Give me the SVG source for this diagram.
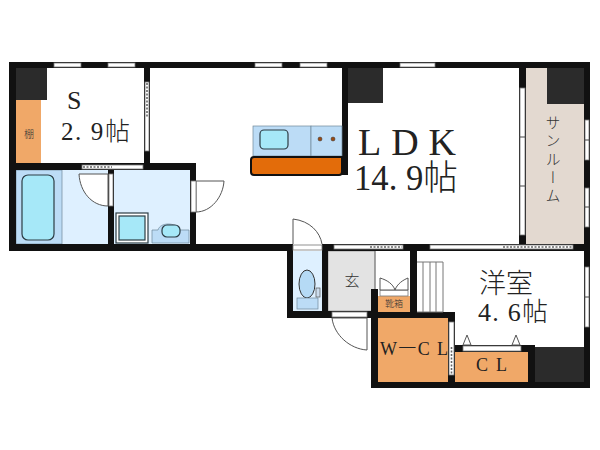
<svg xmlns="http://www.w3.org/2000/svg" width="600" height="450" viewBox="0 0 600 450">
<style>
.w{fill:#111}
.d{fill:#2b2b2b}
.o{fill:#f0a868}
.lb{fill:#bcdcf6;stroke:#6f8899;stroke-width:.7}
.pb{fill:#def0ff}
.c{fill:#a6e8f8;stroke:#2c3c44;stroke-width:1.2}
.win{fill:#fff;stroke:#777;stroke-width:.8}
.dot{fill:none;stroke:#666;stroke-width:1.6;stroke-dasharray:2 1.5}
.arc{fill:#fff;stroke:#555;stroke-width:1}
.t{font-family:"Liberation Serif","Noto Sans CJK JP",serif;fill:#222;font-weight:300}
.j{font-family:"Noto Sans CJK JP",sans-serif;fill:#333;font-weight:300}
</style>
<rect width="600" height="450" fill="#fff"/>
<g id="fills">
<rect class="pb" x="62" y="170" width="46" height="74"/>
<rect class="lb" x="16" y="170" width="46" height="74"/>
<rect class="pb" x="114" y="170" width="76" height="74"/>
<rect x="526" y="68" width="58" height="176" fill="#e3d9d0"/>
<rect class="pb" x="293" y="251" width="29" height="60"/>
<rect x="328" y="251" width="47" height="60" fill="#e3e3e3" stroke="#888" stroke-width=".7"/>
<path d="M375 251V290" stroke="#777" fill="none"/>
<rect class="o" x="16" y="100" width="25" height="63"/>
<rect class="o" x="378" y="318" width="71" height="65"/>
<rect class="o" x="455" y="352" width="73" height="31"/>
<rect class="o" x="378" y="296" width="32" height="16"/>
</g>
<g id="walls">
<rect class="w" x="9" y="62" width="581" height="6"/>
<rect class="w" x="9" y="62" width="7" height="189"/>
<rect class="w" x="9" y="244" width="284" height="7"/>
<rect class="w" x="9" y="163" width="187" height="7"/>
<rect class="w" x="144" y="62" width="6" height="108"/>
<rect class="w" x="108" y="170" width="6" height="80"/>
<rect class="w" x="190" y="163" width="6" height="88"/>
<rect class="w" x="342" y="62" width="6" height="113"/>
<rect class="w" x="519" y="62" width="7" height="183"/>
<rect class="w" x="584" y="62" width="6" height="326"/>
<rect class="w" x="287" y="244" width="6" height="74"/>
<rect class="w" x="287" y="311" width="90" height="7"/>
<rect class="w" x="322" y="244" width="6" height="74"/>
<rect class="w" x="322" y="244" width="268" height="7"/>
<rect class="w" x="410" y="244" width="7" height="74"/>
<rect class="w" x="371" y="289" width="7" height="99"/>
<rect class="w" x="371" y="312" width="84" height="6"/>
<rect class="w" x="448" y="312" width="7" height="76"/>
<rect class="w" x="371" y="382" width="219" height="6"/>
<rect class="w" x="455" y="345" width="80" height="7"/>
<rect class="w" x="528" y="345" width="7" height="40"/>
<rect class="d" x="16" y="68" width="31" height="32"/>
<rect class="d" x="348" y="68" width="35" height="35"/>
<rect class="d" x="547" y="68" width="37" height="36"/>
<rect class="d" x="535" y="347" width="49" height="35"/>
</g>
<g id="windows">
<rect class="win" x="54" y="63" width="27" height="4"/>
<rect class="win" x="108" y="63" width="27" height="4"/>
<rect class="win" x="255" y="63" width="27" height="4"/>
<rect class="win" x="300" y="63" width="27" height="4"/>
<rect class="win" x="400" y="63" width="35" height="4"/>
<rect class="win" x="145" y="82" width="4" height="69"/>
<path class="dot" d="M147 83V117"/>
<rect class="win" x="82" y="165" width="61" height="4"/>
<path class="dot" d="M83 167H112"/>
<rect class="win" x="520" y="88" width="5" height="147"/>
<path d="M519 137H526M519 186H526" stroke="#444"/>
<rect class="win" x="585" y="120" width="4" height="40"/>
<rect class="win" x="585" y="188" width="4" height="39"/>
<rect class="win" x="585" y="267" width="4" height="60"/>
<path d="M584 140H590M584 207H590M584 297H590" stroke="#444"/>
<rect class="win" x="334" y="245" width="69" height="4"/>
<path class="dot" d="M370 247H402"/>
<rect class="win" x="430" y="245" width="143" height="4"/>
<path class="dot" d="M503 247H572"/>
<rect class="win" x="449" y="322" width="5" height="53"/>
<path class="dot" d="M451.500 347V374"/>
<rect class="win" x="463" y="346" width="58" height="5"/>
<rect class="win" x="380" y="290" width="28" height="6"/>
<rect class="win" x="332" y="312" width="35" height="5"/>
</g>
<g id="doors">
<path class="arc" d="M79 174H108V206C92 206 80 192 79 174Z"/>
<rect class="win" x="109" y="174" width="4" height="32"/>
<path class="arc" d="M196 181H224C223 197 211 212 196 212Z"/>
<rect class="win" x="191" y="181" width="5" height="31"/>
<path class="arc" d="M293 244V219C310 221 320 232 322 244"/>
<rect class="win" x="293" y="245" width="29" height="5"/>
<path class="arc" d="M332 318C334 335 350 349 367 350V318Z"/>
<path class="arc" d="M380 290V278C387 280 393 284 395 290C397 284 403 280 408 278V290Z"/>
<path class="arc" d="M463 345L467 335L471 345ZM512 345L516 335L520 345Z"/>
</g>
<g id="fixtures">
<rect x="22" y="175" width="32" height="65" rx="6" fill="#a6e8f8" stroke="#2c3c44" stroke-width="1.2"/>
<rect x="116" y="213" width="32" height="30" fill="#fff" stroke="#2c3c44" stroke-width="1.2"/>
<rect class="c" x="119" y="216" width="26" height="24"/>
<path class="lb" d="M152 243V230H158C160 222 176 222 180 230H189V243Z"/>
<rect class="c" x="162" y="225" width="18" height="12" rx="5"/>
<rect class="lb" x="253" y="126" width="58" height="30"/>
<rect class="lb" x="311" y="126" width="31" height="30"/>
<rect class="c" x="260" y="130" width="28" height="19" rx="4"/>
<circle cx="320" cy="139" r="2" fill="#9a4a12" stroke="#333" stroke-width=".5"/>
<circle cx="333" cy="139" r="2" fill="#9a4a12" stroke="#333" stroke-width=".5"/>
<path d="M254 157H342V172Q342 175 339 175H254Q251 175 251 172V160Q251 157 254 157Z" fill="#e36c0a" stroke="#111" stroke-width="2"/>
<ellipse cx="307" cy="284" rx="8" ry="14" fill="#b5daf5" stroke="#333"/>
<rect class="lb" x="297" y="298" width="21" height="11"/>
<rect x="316" y="288" width="4" height="9" fill="#cde" stroke="#555" stroke-width=".7"/>
<path d="M417 262H443V312H417M423 262V312M430 262V312M436 262V312" fill="#fff" stroke="#777"/>
</g>
<g id="labels">
<text class="t" x="67" y="109" font-size="26">S</text>
<text class="t" x="61" y="140" font-size="25" textLength="69" lengthAdjust="spacing">2. 9帖</text>
<text class="j" x="29" y="138" font-size="10" text-anchor="middle">棚</text>
<text class="t" x="358" y="155" font-size="38" textLength="98" lengthAdjust="spacing">LDK</text>
<text class="t" x="354" y="190" font-size="35" textLength="104" lengthAdjust="spacingAndGlyphs">14. 9帖</text>
<text class="j" font-size="15" x="553" y="115" style="writing-mode:vertical-rl" text-anchor="start" textLength="88" lengthAdjust="spacing">サンルーム</text>
<text class="j" x="352" y="286" font-size="15" text-anchor="middle">玄</text>
<text class="j" x="394" y="307" font-size="9" text-anchor="middle">靴箱</text>
<text class="t" x="479" y="293" font-size="27">洋室</text>
<text class="t" x="478" y="321" font-size="26" textLength="70" lengthAdjust="spacing">4. 6帖</text>
<text class="t" x="380" y="355" font-size="18" textLength="68" lengthAdjust="spacing">W一C L</text>
<text class="t" x="476" y="371" font-size="18" textLength="31" lengthAdjust="spacing">C L</text>
</g>
</svg>
